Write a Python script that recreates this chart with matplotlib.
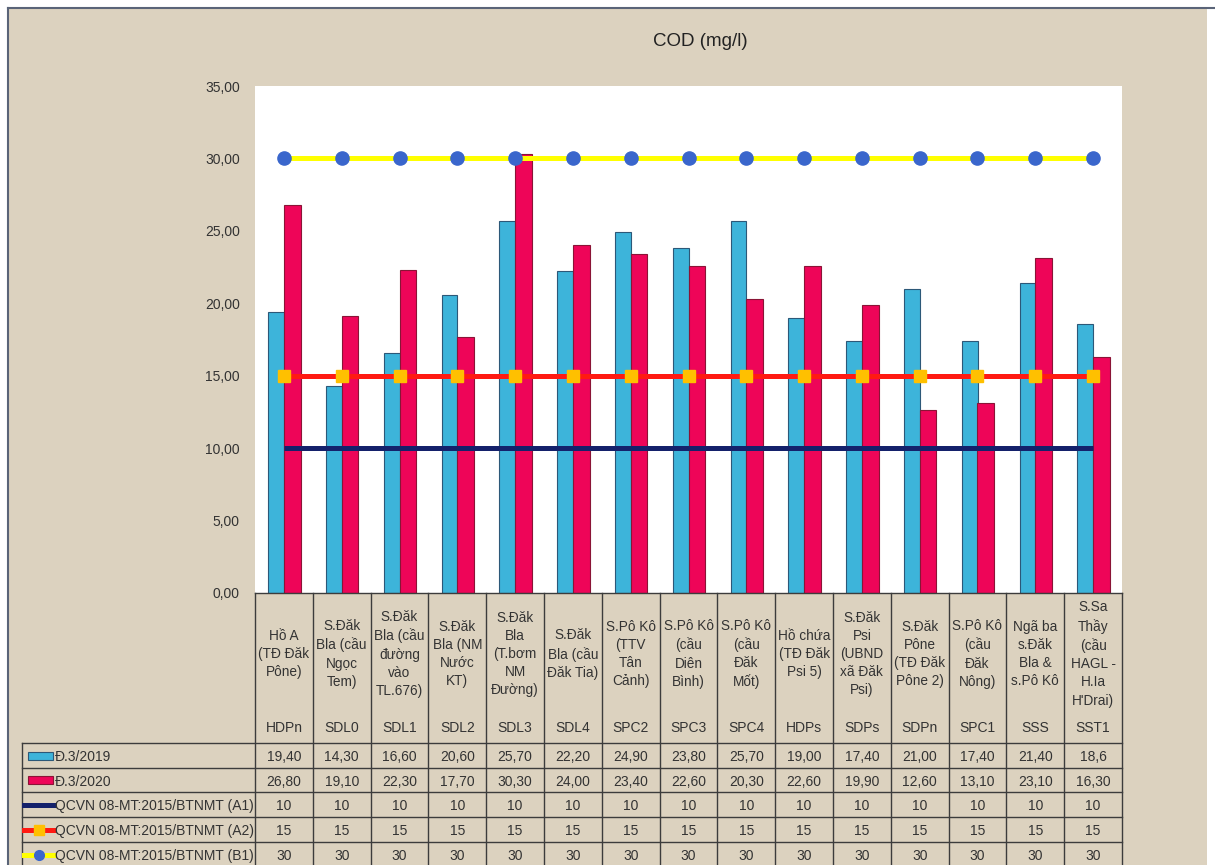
import numpy as np
import matplotlib
matplotlib.use("Agg")
import matplotlib.pyplot as plt
from matplotlib.lines import Line2D
from matplotlib.patches import Rectangle
from matplotlib.transforms import blended_transform_factory

plt.rcParams['font.family'] = ['Liberation Sans', 'DejaVu Sans']

# ---- data -------------------------------------------------------------
sites = [
    "Hồ A\n(TĐ Đăk\nPône)",
    "S.Đăk\nBla (cầu\nNgọc\nTem)",
    "S.Đăk\nBla (cầu\nđường\nvào\nTL.676)",
    "S.Đăk\nBla (NM\nNước\nKT)",
    "S.Đăk\nBla\n(T.bơm\nNM\nĐường)",
    "S.Đăk\nBla (cầu\nĐăk Tia)",
    "S.Pô Kô\n(TTV\nTân\nCảnh)",
    "S.Pô Kô\n(cầu\nDiên\nBình)",
    "S.Pô Kô\n(cầu\nĐăk\nMốt)",
    "Hồ chứa\n(TĐ Đăk\nPsi 5)",
    "S.Đăk\nPsi\n(UBND\nxã Đăk\nPsi)",
    "S.Đăk\nPône\n(TĐ Đăk\nPône 2)",
    "S.Pô Kô\n(cầu\nĐăk\nNông)",
    "Ngã ba\ns.Đăk\nBla &\ns.Pô Kô",
    "S.Sa\nThầy\n(cầu\nHAGL -\nH.Ia\nH'Drai)",
]
codes = ["HDPn", "SDL0", "SDL1", "SDL2", "SDL3", "SDL4", "SPC2", "SPC3",
         "SPC4", "HDPs", "SDPs", "SDPn", "SPC1", "SSS", "SST1"]

cod_2019 = [19.40, 14.30, 16.60, 20.60, 25.70, 22.20, 24.90, 23.80,
            25.70, 19.00, 17.40, 21.00, 17.40, 21.40, 18.6]
cod_2019_decimals = [2, 2, 2, 2, 2, 2, 2, 2, 2, 2, 2, 2, 2, 2, 1]
cod_2020 = [26.80, 19.10, 22.30, 17.70, 30.30, 24.00, 23.40, 22.60,
            20.30, 22.60, 19.90, 12.60, 13.10, 23.10, 16.30]
qcvn_a1 = [10, 10, 10, 10, 10, 10, 10, 10, 10, 10, 10, 10, 10, 10, 10]
qcvn_a2 = [15, 15, 15, 15, 15, 15, 15, 15, 15, 15, 15, 15, 15, 15, 15]
qcvn_b1 = [30, 30, 30, 30, 30, 30, 30, 30, 30, 30, 30, 30, 30, 30, 30]

series_names = ["Đ.3/2019", "Đ.3/2020",
                "QCVN 08-MT:2015/BTNMT (A1)",
                "QCVN 08-MT:2015/BTNMT (A2)",
                "QCVN 08-MT:2015/BTNMT (B1)"]
y_ticks = [0, 5, 10, 15, 20, 25, 30, 35]

# ---- styling ----------------------------------------------------------
BEIGE = "#DCD2BF"
BLUE = "#3DB4DA"
BLUE_EDGE = "#2C5878"
RED = "#EE0558"
RED_EDGE = "#8A1436"
NAVY = "#14216B"
LINE_RED = "#FF1A12"
SQUARE = "#FFC000"
YELLOW = "#FFFF00"
DOT = "#3A66CC"
TEXT = "#333333"
GRID = "#3C3C3C"

W, H = 1215, 865
fig = plt.figure(figsize=(W / 100, H / 100), dpi=100)
fig.patch.set_facecolor("white")


def fx(px):
    return px / W


def fy(py):
    return 1 - py / H


# paper panel behind the chart
fig.add_artist(Rectangle((fx(8), 0), fx(1207) - fx(8), fy(8), transform=fig.transFigure,
                         facecolor=BEIGE, edgecolor="none", zorder=-10))
fig.add_artist(Line2D([fx(7.5), fx(7.5)], [0, fy(7.5)], transform=fig.transFigure,
                      color="#5A6478", lw=1.5, zorder=-9))
fig.add_artist(Line2D([fx(7.5), 1], [fy(7.5), fy(7.5)], transform=fig.transFigure,
                      color="#5A6478", lw=1.5, zorder=-9))

# ---- plot area --------------------------------------------------------
ax_left, ax_right, ax_top, ax_bottom = 255, 1122, 86, 593
ax = fig.add_axes([fx(ax_left), fy(ax_bottom), (ax_right - ax_left) / W,
                   (ax_bottom - ax_top) / H])
ax.set_facecolor("white")

x = np.arange(len(codes))
ax.bar(x - 0.135, cod_2019, 0.27, color=BLUE, edgecolor=BLUE_EDGE,
       linewidth=0.8, zorder=2)
ax.bar(x + 0.145, cod_2020, 0.29, color=RED, edgecolor=RED_EDGE,
       linewidth=0.8, zorder=2)
ax.plot(x, qcvn_a1, color=NAVY, lw=3.6, zorder=3, solid_capstyle="butt")
ax.plot(x, qcvn_a2, color=LINE_RED, lw=3.6, marker="s", ms=8.5,
        mfc=SQUARE, mec=SQUARE, zorder=4, solid_capstyle="butt")
ax.plot(x, qcvn_b1, color=YELLOW, lw=3.6, marker="o", ms=9.5,
        mfc=DOT, mec=DOT, zorder=4, solid_capstyle="butt")

ax.set_xlim(-0.5, len(codes) - 0.5)
ax.set_ylim(0, 35)
ax.set_yticks(y_ticks)
ax.set_yticklabels([f"{t:.2f}".replace(".", ",") for t in y_ticks])
ax.tick_params(axis="y", length=0, pad=11, labelsize=10, labelcolor=TEXT)
ax.set_xticks([])
for s in ax.spines.values():
    s.set_visible(False)

fig.text(fx(700), fy(42), "COD (mg/l)", ha="center", va="center",
         fontsize=13.5, color="#222222")

# ---- data table below the axis ---------------------------------------
tr = blended_transform_factory(ax.transData, fig.transFigure)
row_edges = [743, 768, 792, 817, 842, 867]
table_left = 22

# category header row
fig.add_artist(Line2D([fx(ax_left), fx(ax_right)], [fy(ax_bottom), fy(ax_bottom)],
                      transform=fig.transFigure, color=GRID, lw=1.0))
for b in np.arange(-0.5, len(codes)):
    fig.add_artist(Line2D([b, b], [fy(ax_bottom), fy(row_edges[-1])],
                          transform=tr, color=GRID, lw=1.0))
for i, (name, code) in enumerate(zip(sites, codes)):
    fig.text(i, fy(654), name, transform=tr, ha="center", va="center",
             fontsize=9.8, linespacing=1.38, color=TEXT)
    fig.text(i, fy(728), code, transform=tr, ha="center", va="center",
             fontsize=10, color=TEXT)

# series rows
for yy in row_edges[:-1]:
    fig.add_artist(Line2D([fx(table_left), fx(ax_right)], [fy(yy), fy(yy)],
                          transform=fig.transFigure, color=GRID, lw=1.0))
fig.add_artist(Line2D([fx(table_left), fx(table_left)],
                      [fy(row_edges[0]), fy(row_edges[-1])],
                      transform=fig.transFigure, color=GRID, lw=1.0))

rows = [
    [f"{v:.{d}f}".replace(".", ",") for v, d in zip(cod_2019, cod_2019_decimals)],
    [f"{v:.2f}".replace(".", ",") for v in cod_2020],
    [f"{v:d}" for v in qcvn_a1],
    [f"{v:d}" for v in qcvn_a2],
    [f"{v:d}" for v in qcvn_b1],
]


def row_center(r):
    return fy((row_edges[r] + row_edges[r + 1]) / 2)


for r, (vals, label) in enumerate(zip(rows, series_names)):
    yc = row_center(r)
    for i, s in enumerate(vals):
        fig.text(i, yc, s, transform=tr, ha="center", va="center_baseline",
                 fontsize=10, color=TEXT)
    fig.text(fx(55), yc, label, ha="left", va="center_baseline",
             fontsize=10, color=TEXT)

# legend keys in the first column
for r, (fc, ec) in enumerate([(BLUE, BLUE_EDGE), (RED, RED_EDGE)]):
    fig.add_artist(Rectangle((fx(28), row_center(r) - 4 / H), 25 / W, 8 / H,
                             transform=fig.transFigure, facecolor=fc,
                             edgecolor=ec, lw=0.8))
fig.add_artist(Line2D([fx(24), fx(54)], [row_center(2)] * 2,
                      transform=fig.transFigure, color=NAVY, lw=3.6))
fig.add_artist(Line2D([fx(24), fx(39), fx(54)], [row_center(3)] * 3,
                      transform=fig.transFigure, color=LINE_RED, lw=3.6,
                      marker="s", ms=7, mfc=SQUARE, mec=SQUARE, markevery=[1]))
fig.add_artist(Line2D([fx(24), fx(39), fx(54)], [row_center(4)] * 3,
                      transform=fig.transFigure, color=YELLOW, lw=3.6,
                      marker="o", ms=7, mfc=DOT, mec=DOT, markevery=[1]))

fig.savefig("out.png", dpi=100)
